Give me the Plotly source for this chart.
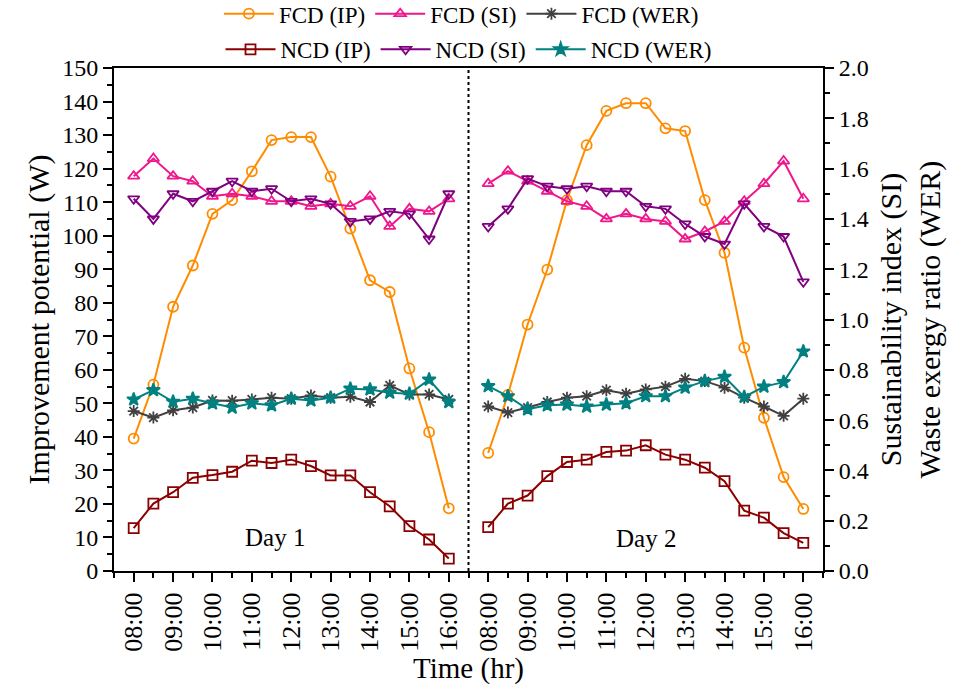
import plotly.graph_objects as go

# ---- data -------------------------------------------------------------
times = ["08:00", "08:30", "09:00", "09:30", "10:00", "10:30", "11:00", "11:30",
         "12:00", "12:30", "13:00", "13:30", "14:00", "14:30", "15:00", "15:30", "16:00"]
hour_labels = ["08:00", "09:00", "10:00", "11:00", "12:00", "13:00", "14:00", "15:00", "16:00"]
days = ["Day 1", "Day 2"]

# Improvement potential (W) - left axis
fcd_ip_d1 = [39.5, 55.6, 78.8, 91.1, 106.5, 110.6, 119.2, 128.5, 129.4, 129.4, 117.6, 102.1, 86.7, 83.2, 60.4, 41.4, 18.7]
fcd_ip_d2 = [35.2, 52.5, 73.5, 89.9, 110.6, 127.0, 137.2, 139.5, 139.5, 132.0, 131.2, 110.6, 94.9, 66.6, 45.7, 28.0, 18.5]
ncd_ip_d1 = [12.8, 20.1, 23.5, 27.8, 28.6, 29.6, 32.9, 32.2, 33.2, 31.3, 28.5, 28.5, 23.5, 19.3, 13.4, 9.4, 3.7]
ncd_ip_d2 = [13.1, 20.1, 22.5, 28.3, 32.5, 33.2, 35.5, 35.9, 37.5, 34.7, 33.2, 30.8, 26.8, 18.0, 15.9, 11.3, 8.4]

# Sustainability index (SI) - right axis
fcd_si_d1 = [1.57, 1.64, 1.57, 1.55, 1.49, 1.50, 1.49, 1.47, 1.47, 1.45, 1.46, 1.45, 1.49, 1.37, 1.44, 1.43, 1.48]
fcd_si_d2 = [1.54, 1.59, 1.55, 1.51, 1.47, 1.45, 1.40, 1.42, 1.40, 1.39, 1.32, 1.35, 1.39, 1.47, 1.54, 1.63, 1.48]
ncd_si_d1 = [1.48, 1.40, 1.50, 1.47, 1.51, 1.55, 1.51, 1.52, 1.47, 1.48, 1.46, 1.39, 1.40, 1.43, 1.42, 1.32, 1.50]
ncd_si_d2 = [1.37, 1.44, 1.56, 1.53, 1.52, 1.53, 1.51, 1.51, 1.45, 1.44, 1.38, 1.33, 1.30, 1.46, 1.37, 1.33, 1.15]

# Waste exergy ratio (WER) - right axis
fcd_wer_d1 = [0.636, 0.610, 0.639, 0.650, 0.678, 0.677, 0.682, 0.689, 0.685, 0.698, 0.689, 0.693, 0.672, 0.738, 0.702, 0.702, 0.682]
fcd_wer_d2 = [0.654, 0.630, 0.650, 0.672, 0.689, 0.695, 0.719, 0.705, 0.722, 0.733, 0.764, 0.755, 0.729, 0.689, 0.654, 0.617, 0.685]
ncd_wer_d1 = [0.682, 0.719, 0.673, 0.685, 0.667, 0.650, 0.667, 0.659, 0.685, 0.678, 0.689, 0.725, 0.722, 0.709, 0.705, 0.761, 0.672]
ncd_wer_d2 = [0.735, 0.695, 0.643, 0.659, 0.662, 0.654, 0.662, 0.667, 0.695, 0.695, 0.729, 0.755, 0.772, 0.692, 0.733, 0.751, 0.873]

# ---- positions on the time axis ----------------------------------------
n = len(times)
day_start = [0, n + 1]          # second day starts after one empty slot
gap_pos = n                      # divider slot
x_all = [day_start[0] + i for i in range(n)] + [gap_pos] + [day_start[1] + i for i in range(n)]


def joined(d1, d2):
    return list(d1) + [None] + list(d2)


FONT = "Times New Roman, Liberation Serif, serif"

series = [
    ("FCD (IP)", fcd_ip_d1, fcd_ip_d2, "y", "#FF8C00", "circle-open", "legend"),
    ("FCD (SI)", fcd_si_d1, fcd_si_d2, "y2", "#F0168C", "triangle-up-open", "legend"),
    ("FCD (WER)", fcd_wer_d1, fcd_wer_d2, "y2", "#404040", "asterisk-open", "legend"),
    ("NCD (IP)", ncd_ip_d1, ncd_ip_d2, "y", "#8B0000", "square-open", "legend2"),
    ("NCD (SI)", ncd_si_d1, ncd_si_d2, "y2", "#800080", "triangle-down-open", "legend2"),
    ("NCD (WER)", ncd_wer_d1, ncd_wer_d2, "y2", "#008080", "star", "legend2"),
]

fig = go.Figure()
for name, d1, d2, yax, col, sym, leg in series:
    fig.add_trace(go.Scatter(
        x=x_all, y=joined(d1, d2), name=name, yaxis=yax, legend=leg,
        mode="lines+markers", connectgaps=False,
        line=dict(color=col, width=2),
        marker=dict(symbol=sym, size=10, color=col, line=dict(color=col, width=1.8)),
    ))

major_vals = [day_start[d] + 2 * k for d in range(2) for k in range(len(hour_labels))]
major_text = hour_labels * 2
minor_vals = [-1] + [day_start[d] + 2 * k + 1 for d in range(2) for k in range(len(hour_labels) - 1)] + [gap_pos, day_start[1] + n]

fig.update_layout(
    width=968, height=689,
    paper_bgcolor="white", plot_bgcolor="white",
    margin=dict(l=114, r=145, t=68, b=118, autoexpand=False),
    font=dict(family=FONT, color="black", size=22),
    xaxis=dict(
        range=[-1, day_start[1] + n], showline=True, linecolor="black", linewidth=2, mirror=True,
        ticks="outside", ticklen=9, tickwidth=2, tickcolor="black",
        tickmode="array", tickvals=major_vals, ticktext=major_text, tickangle=-90,
        tickfont=dict(family=FONT, size=26),
        minor=dict(tickmode="array", tickvals=minor_vals, ticks="outside", ticklen=5,
                   tickwidth=2, tickcolor="black"),
        showgrid=False, zeroline=False,
        title=dict(text="Time (hr)", font=dict(family=FONT, size=29), standoff=0),
    ),
    yaxis=dict(
        range=[0, 150], dtick=10, showline=True, linecolor="black", linewidth=2,
        ticks="outside", ticklen=9, tickwidth=2, tickcolor="black",
        minor=dict(dtick=5, ticks="outside", ticklen=5, tickwidth=2, tickcolor="black"),
        tickfont=dict(family=FONT, size=24),
        showgrid=False, zeroline=False,
        title=dict(text="Improvement potential (W)", font=dict(family=FONT, size=30), standoff=4),
    ),
    yaxis2=dict(
        range=[0, 2.0], dtick=0.2, tickformat=".1f", overlaying="y", side="right",
        showline=True, linecolor="black", linewidth=2,
        ticks="outside", ticklen=9, tickwidth=2, tickcolor="black",
        minor=dict(dtick=0.1, ticks="outside", ticklen=5, tickwidth=2, tickcolor="black"),
        tickfont=dict(family=FONT, size=24),
        showgrid=False, zeroline=False,
        title=dict(text="Sustainability index (SI)<br>Waste exergy ratio (WER)",
                   font=dict(family=FONT, size=30), standoff=12),
    ),
    legend=dict(orientation="h", x=0.49, xanchor="center", y=1.108, yanchor="middle",
                font=dict(family=FONT, size=23), bgcolor="rgba(0,0,0,0)", itemwidth=50),
    legend2=dict(orientation="h", x=0.5, xanchor="center", y=1.037, yanchor="middle",
                 font=dict(family=FONT, size=23), bgcolor="rgba(0,0,0,0)", itemwidth=50),
    showlegend=True,
)

fig.add_shape(type="line", xref="x", yref="paper", x0=gap_pos, x1=gap_pos, y0=0, y1=1,
              line=dict(color="black", width=2, dash="dot"))

fig.add_annotation(x=7.2, y=10, xref="x", yref="y", text=days[0], showarrow=False,
                   font=dict(family=FONT, size=25, color="black"))
fig.add_annotation(x=26, y=9.7, xref="x", yref="y", text=days[1], showarrow=False,
                   font=dict(family=FONT, size=25, color="black"))

fig.write_html("out.html")
